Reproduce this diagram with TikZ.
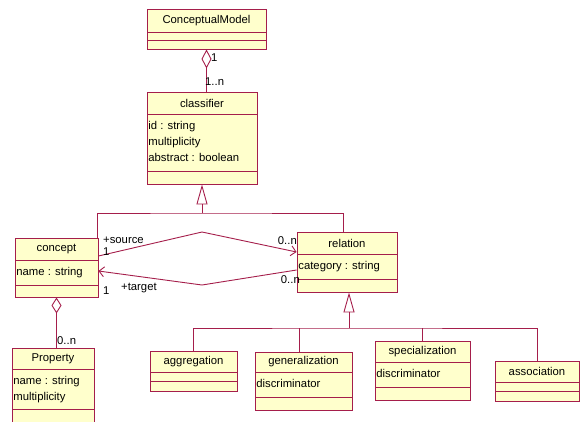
\documentclass[tikz,border=0pt]{standalone}
\usepackage{fontspec}
\setmainfont{Liberation Sans}
\usetikzlibrary{arrows.meta,positioning}
\definecolor{umlline}{RGB}{165,30,75}
\definecolor{umlfill}{RGB}{255,255,204}

% class box: name, x1, y1, x2, y2, divider 1, divider 2, title, attributes
\newcommand{\umlclass}[9]{%
	\node[umlbox, minimum width={(#4-#2)*1pt}, minimum height={(#5-#3)*1pt}] (#1) at ({(#2+#4)/2},{(#3+#5)/2}) {};
	\draw[umledge] (#2,#6) -- (#4,#6);
	\draw[umledge] (#2,#7) -- (#4,#7);
	\node (#1-name) at ({(#2+#4)/2},{(#3+#6)/2}) {#8};
	\node[attrs] (#1-attrs) at (#2,#6) {#9};
}

\begin{document}
\begin{tikzpicture}[x=1pt, y=-1pt, font=\fontsize{11.3}{16}\selectfont,
		umlbox/.style={draw=umlline, fill=umlfill, line width=0.9pt, inner sep=0pt},
		umledge/.style={draw=umlline, line width=0.9pt},
		attrs/.style={anchor=north west, align=left, inner xsep=1.2pt, inner ysep=7pt},
		mult/.style={inner sep=0pt}]
	\useasboundingbox (0,0) rectangle (580,421);
	\clip (0,0) rectangle (580,421);

	\umlclass{model}{147}{9}{266}{49}{32}{40}{ConceptualModel}{}
	\umlclass{classifier}{147}{92}{257}{184}{114}{171}{classifier}{id : string\\multiplicity\\abstract : boolean}
	\umlclass{concept}{15}{238}{98}{297}{260}{285}{concept}{name : string}
	\umlclass{relation}{297}{232}{397}{292}{254}{279}{relation}{category : string}
	\umlclass{property}{12}{348}{94}{430}{369}{409}{Property}{name : string\\multiplicity}
	\umlclass{aggregation}{150}{351}{237}{391}{372}{381}{aggregation}{}
	\umlclass{generalization}{255}{352}{352}{410}{372}{397}{generalization}{discriminator}
	\umlclass{specialization}{375}{341}{470}{400}{362}{387}{specialization}{discriminator}
	\umlclass{association}{495}{361}{579}{401}{382}{391}{association}{}

	% aggregations
	\draw[umledge, {Diamond[open, length=19pt, width=10pt]}-] (model.south) -- (model.south |- classifier.north);
	\draw[umledge, {Diamond[open, length=16pt, width=10pt]}-] (concept.south) -- (concept.south |- property.north);
	\node[mult, anchor=west] (modelmult) at (211,58) {1};
	\node[mult, anchor=west] (classmult) at (205,82) {1..n};
	\node[mult, anchor=west] (propmult) at (57,341) {0..n};

	% generalizations
	\coordinate (clsjoin) at (202,213);
	\draw[umledge, -{Triangle[open, length=20pt, width=11pt]}] (clsjoin) -- (clsjoin |- classifier.south);
	\draw[umledge] ([xshift=-1pt]concept.north east) |- (clsjoin) -| ([xshift=-4pt]relation.north);

	\coordinate (reljoin) at (349,328);
	\draw[umledge, -{Triangle[open, length=20pt, width=11pt]}] (reljoin) -- (reljoin |- relation.south);
	\draw[umledge] (aggregation.north) |- (reljoin) -| (association.north);
	\draw[umledge] ([xshift=-4.5pt]generalization.north) -- ([xshift=-4.5pt]generalization.north |- reljoin);
	\draw[umledge] (specialization.north) -- (specialization.north |- reljoin);

	% associations
	\coordinate (srcbend) at (202,232);
	\coordinate (tgtbend) at (202,285);
	\draw[umledge, -{Straight Barb[length=5pt, width=10pt]}] ([yshift=11.5pt]concept.east) -- (srcbend) -- ([yshift=10pt]relation.west);
	\draw[umledge, -{Straight Barb[length=5pt, width=10pt]}] ([yshift=-8pt]relation.west) -- (tgtbend) -- ([yshift=-3.5pt]concept.east);
	\node[mult, anchor=west] (srcrole) at (103,240) {+source};
	\node[mult, anchor=west] (srcmult) at (103,252) {1};
	\node[mult, anchor=east] (srcmultr) at (297,241) {0..n};
	\node[mult, anchor=west] (tgtrole) at (121,288) {+target};
	\node[mult, anchor=west] (tgtmult) at (103,291) {1};
	\node[mult, anchor=east] (tgtmultr) at (300,280) {0..n};
\end{tikzpicture}
\end{document}
